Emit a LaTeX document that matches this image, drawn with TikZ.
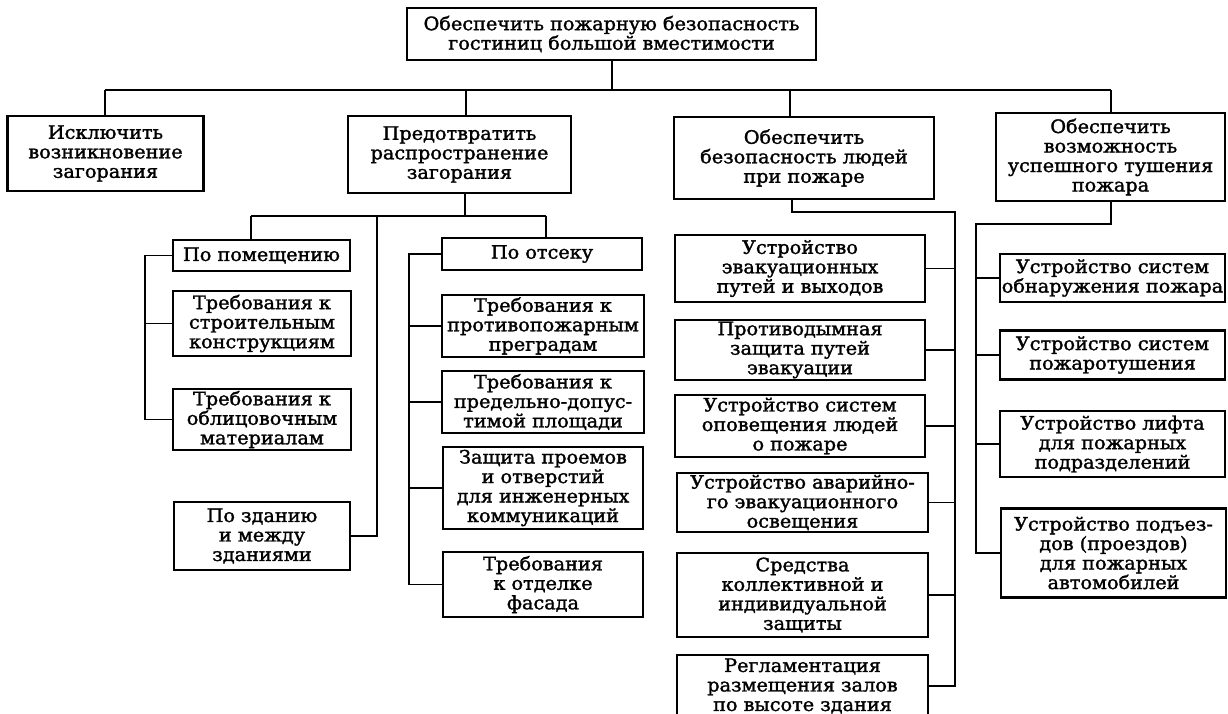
\documentclass[tikz,border=0pt]{standalone}
\usepackage{fontspec}
\setmainfont{DejaVu Serif}[FakeStretch=1.04,FakeBold=1.6]
% box placed by centre and size: name, cx, cy, width, height, text
\newcommand\bx[6]{\node[box,minimum width=#4pt,minimum height=#5pt] (#1) at (#2,#3) {#6};}
\begin{document}
\begin{tikzpicture}[x=1pt,y=-1pt,
  box/.style={draw,line width=2.6pt,inner sep=0pt,align=center,
    font=\fontsize{18.5}{19.5}\selectfont},
  wire/.style={line width=1.6pt}]
\useasboundingbox (0,0) rectangle (1228,714);

% root and first level
\bx{top}{611.5}{34}{409}{52}{Обеспечить пожарную безопасность\\гостиниц большой вместимости}
\bx{A}{105.5}{153.5}{196}{75}{Исключить\\возникновение\\загорания}
\bx{B}{459.5}{154.5}{223}{77}{Предотвратить\\распространение\\загорания}
\bx{C}{804}{158}{260}{82}{Обеспечить\\безопасность людей\\при пожаре}
\bx{D}{1110.5}{157}{229}{88}{Обеспечить\\возможность\\успешного тушения\\пожара}

% spread of fire: room / building
\bx{B1}{261.5}{255.5}{177}{31}{По помещению}
\bx{B2}{262}{323.5}{178}{65}{Требования к\\строительным\\конструкциям}
\bx{B3}{262}{419.5}{178}{61}{Требования к\\облицовочным\\материалам}
\bx{B4}{262}{536}{176}{68}{По зданию\\и между\\зданиями}
% spread of fire: compartment
\bx{B5}{542}{254}{200}{32}{По отсеку}
\bx{B6}{543}{326}{202}{62}{Требования к\\противопожарным\\преградам}
\bx{B7}{543}{402}{202}{62}{Требования к\\предельно-допус-\\тимой площади}
\bx{B8}{543}{488}{200}{82}{Защита проемов\\и отверстий\\для инженерных\\коммуникаций}
\bx{B9}{543}{584.5}{200}{65}{Требования\\к отделке\\фасада}

% safety of people
\bx{C1}{800}{268.5}{250}{67}{Устройство\\эвакуационных\\путей и выходов}
\bx{C2}{800}{350}{250}{60}{Противодымная\\защита путей\\эвакуации}
\bx{C3}{800}{426}{250}{62}{Устройство систем\\оповещения людей\\о пожаре}
\bx{C4}{802.5}{502.5}{251}{59}{Устройство аварийно-\\го эвакуационного\\освещения}
\bx{C5}{802.5}{595}{251}{84}{Средства\\коллективной и\\индивидуальной\\защиты}
\bx{C6}{802.5}{686}{251}{62}{Регламентация\\размещения залов\\по высоте здания}

% fire fighting
\bx{D1}{1112.5}{278}{225}{48}{Устройство систем\\обнаружения пожара}
\bx{D2}{1112.5}{355}{225}{49}{Устройство систем\\пожаротушения}
\bx{D3}{1112.5}{444}{225}{66}{Устройство лифта\\для пожарных\\подразделений}
\bx{D4}{1113.5}{553}{225}{89}{Устройство подъез-\\дов (проездов)\\для пожарных\\автомобилей}

% main bus
\coordinate (busA) at (105,90);
\coordinate (busB) at (466,90);
\coordinate (busT) at (612,90);
\coordinate (busC) at (790,90);
\coordinate (busD) at (1111,90);
\draw[wire] (busA) -- (busD);
\draw[wire] (busT) -- (busT |- top.south);
\draw[wire] (busA) -- (busA |- A.north);
\draw[wire] (busB) -- (busB |- B.north);
\draw[wire] (busC) -- (busC |- C.north);
\draw[wire] (busD) -- (busD |- D.north);

% branch under B
\coordinate (sbL) at (251,216);
\coordinate (sbM) at (377,216);
\coordinate (sbB) at (465,216);
\coordinate (sbR) at (546,216);
\draw[wire] (sbL) -- (sbR);
\draw[wire] (sbB) -- (sbB |- B.south);
\draw[wire] (sbL) -- (sbL |- B1.north);
\draw[wire] (sbR) -- (sbR |- B5.north);
\draw[wire] (sbM) |- (B4.east);

% rail: room
\coordinate (rL) at (145,0);
\draw[wire] (B1.west) -- (B1.west -| rL) -- (B3.west -| rL) -- (B3.west);
\draw[wire] (B2.west) -- (B2.west -| rL);

% rail: compartment
\coordinate (rM) at (409,0);
\draw[wire] (B5.west) -- (B5.west -| rM) -- (B9.west -| rM) -- (B9.west);
\foreach \n in {B6,B7,B8} \draw[wire] (\n.west) -- (\n.west -| rM);

% rail: people
\coordinate (cd) at (792,212);
\coordinate (rC) at (955,0);
\draw[wire] (C.south -| cd) -- (cd) -- (cd -| rC) -- (C6.east -| rC) -- (C6.east);
\foreach \n in {C1,C2,C3,C4,C5} \draw[wire] (\n.east) -- (\n.east -| rC);

% rail: fire fighting
\coordinate (dd) at (1111,224);
\coordinate (rD) at (976,0);
\draw[wire] (D.south -| dd) -- (dd) -- (dd -| rD) -- (D4.west -| rD) -- (D4.west);
\foreach \n in {D1,D2,D3} \draw[wire] (\n.west) -- (\n.west -| rD);
\end{tikzpicture}
\end{document}
